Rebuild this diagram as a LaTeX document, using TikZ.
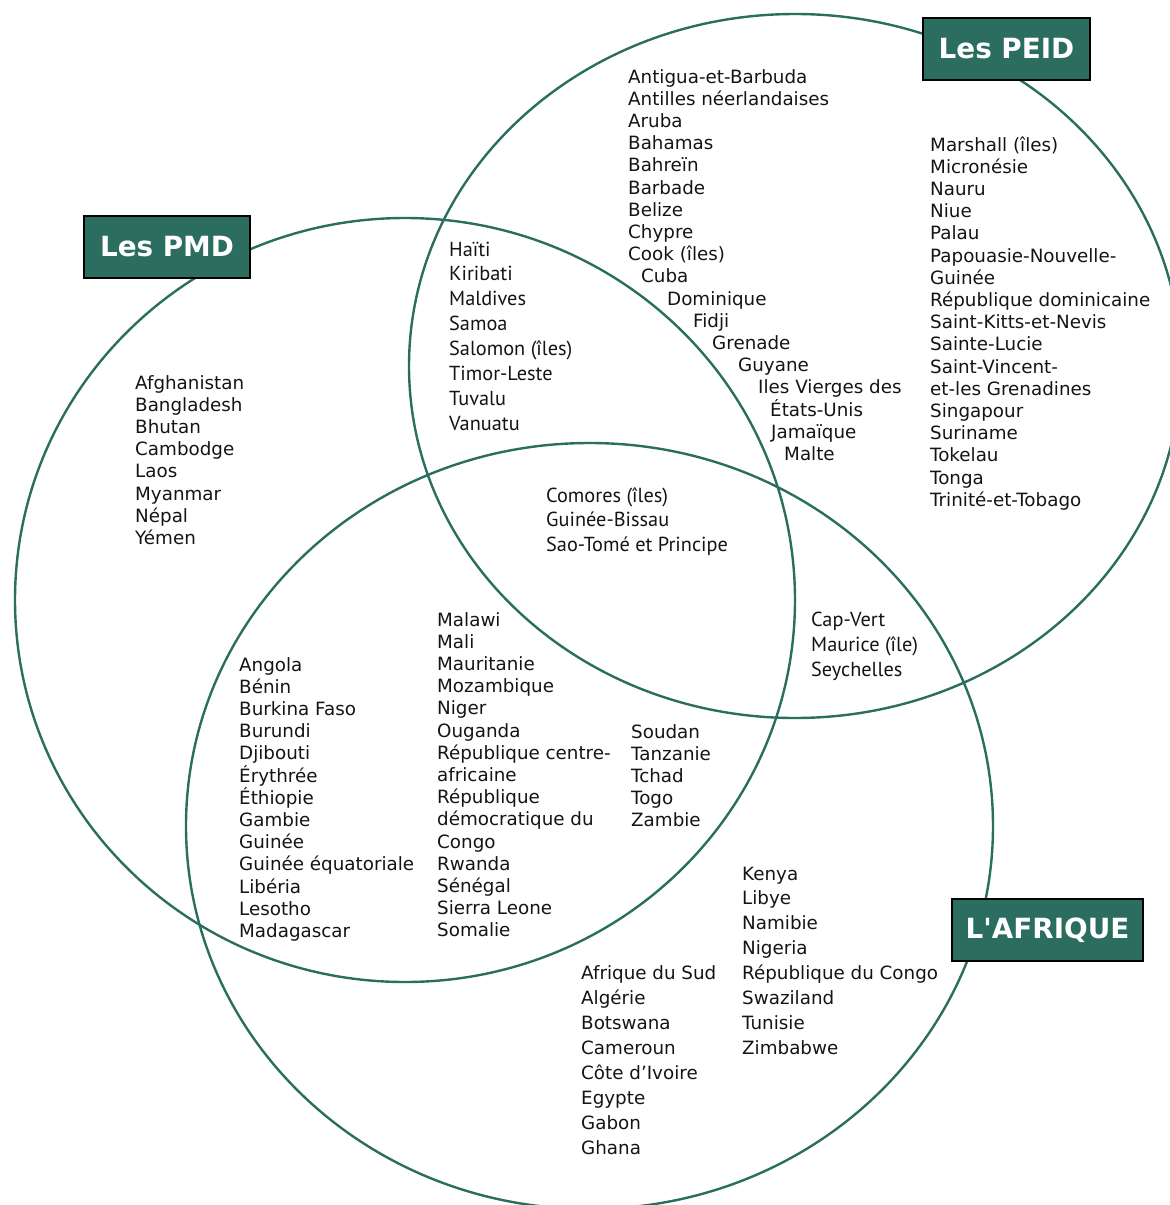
\documentclass[tikz,border=0pt]{standalone}
\usepackage{fontspec}
\setmainfont{DejaVu Sans}
\newfontfamily\myr{PT Sans}
\definecolor{teal1}{HTML}{2A6E5F}
\definecolor{boxfill}{HTML}{2B6E60}
\definecolor{txt}{HTML}{141414}
\begin{document}
\begin{tikzpicture}[x=1pt,y=-1pt,
  ring/.style={draw=teal1,line width=2.4pt},
  lbl/.style={anchor=base west,inner sep=0pt,text=txt,font=\fontsize{18.3}{22}\selectfont},
  lblm/.style={anchor=base west,inner sep=0pt,text=txt,font=\myr\fontsize{20.3}{25}\selectfont},
  title/.style={draw=black,line width=1.3pt,fill=boxfill,text=white,inner sep=0pt,
    font=\bfseries\fontsize{27.8}{30}\selectfont}]
\useasboundingbox (0,0) rectangle (1170,1205);
\begin{scope}
\clip (0,0) rectangle (1170,1205);
\draw[ring] (405,600) ellipse [x radius=390, y radius=382];
\draw[ring] (795,366) ellipse [x radius=386, y radius=352];
\draw[ring] (589.5,826) ellipse [x radius=403.5, y radius=383];
\end{scope}
% titles
\node[title,minimum width=167pt,minimum height=62pt] (peid) at (1006.5,49) {Les PEID};
\node[title,minimum width=166pt,minimum height=62pt] (pmd) at (167,247) {Les PMD};
\node[title,minimum width=191pt,minimum height=62pt] (afr) at (1047.5,930) {L\textquotesingle AFRIQUE};
% PEID only (top)
\foreach \x/\t [count=\i from 0] in {628/Antigua-et-Barbuda,628/Antilles néerlandaises,628/Aruba,628/Bahamas,628/Bahreïn,628/Barbade,628/Belize,628/Chypre,628/Cook (îles),641/Cuba,667/Dominique,693/Fidji,712/Grenade,738/Guyane,758/Iles Vierges des,770/États-Unis,771/Jamaïque,784/Malte}
  \node[lbl] (pa\i) at (\x,83+\i*22.2) {\t};
% PEID right
\foreach \t [count=\i from 0] in {Marshall (îles),Micronésie,Nauru,Niue,Palau,Papouasie-Nouvelle-,Guinée,République dominicaine,Saint-Kitts-et-Nevis,Sainte-Lucie,Saint-Vincent-,et-les Grenadines,Singapour,Suriname,Tokelau,Tonga,Trinité-et-Tobago}
  \node[lbl] (pb\i) at (930,151+\i*22.2) {\t};
% PMD only
\foreach \t [count=\i from 0] in {Afghanistan,Bangladesh,Bhutan,Cambodge,Laos,Myanmar,Népal,Yémen}
  \node[lbl] (ma\i) at (135,389+\i*22.2) {\t};
% PMD and PEID
\foreach \t [count=\i from 0] in {Haïti,Kiribati,Maldives,Samoa,Salomon (îles),Timor-Leste,Tuvalu,Vanuatu}
  \node[lblm] (mp\i) at (449,256+\i*24.9) {\t};
% all three
\foreach \t [count=\i from 0] in {Comores (îles),Guinée-Bissau,Sao-Tomé et Principe}
  \node[lblm] (all\i) at (546,502+\i*24.5) {\t};
% PEID and Afrique
\foreach \t [count=\i from 0] in {Cap-Vert,Maurice (île),Seychelles}
  \node[lblm] (pf\i) at (811,626+\i*25) {\t};
% PMD and Afrique
\foreach \t [count=\i from 0] in {Angola,Bénin,Burkina Faso,Burundi,Djibouti,Érythrée,Éthiopie,Gambie,Guinée,Guinée équatoriale,Libéria,Lesotho,Madagascar}
  \node[lbl] (mfa\i) at (239,671+\i*22.2) {\t};
\foreach \t [count=\i from 0] in {Malawi,Mali,Mauritanie,Mozambique,Niger,Ouganda,République centre-,africaine,République,démocratique du,Congo,Rwanda,Sénégal,Sierra Leone,Somalie}
  \node[lbl] (mfb\i) at (437,626+\i*22.2) {\t};
\foreach \t [count=\i from 0] in {Soudan,Tanzanie,Tchad,Togo,Zambie}
  \node[lbl] (mfc\i) at (631,738+\i*22.2) {\t};
% Afrique only
\foreach \t [count=\i from 0] in {Afrique du Sud,Algérie,Botswana,Cameroun,Côte d’Ivoire,Egypte,Gabon,Ghana}
  \node[lbl] (fa\i) at (581,979+\i*25) {\t};
\foreach \t [count=\i from 0] in {Kenya,Libye,Namibie,Nigeria,République du Congo,Swaziland,Tunisie,Zimbabwe}
  \node[lbl] (fb\i) at (742,880+\i*24.9) {\t};
\end{tikzpicture}
\end{document}
